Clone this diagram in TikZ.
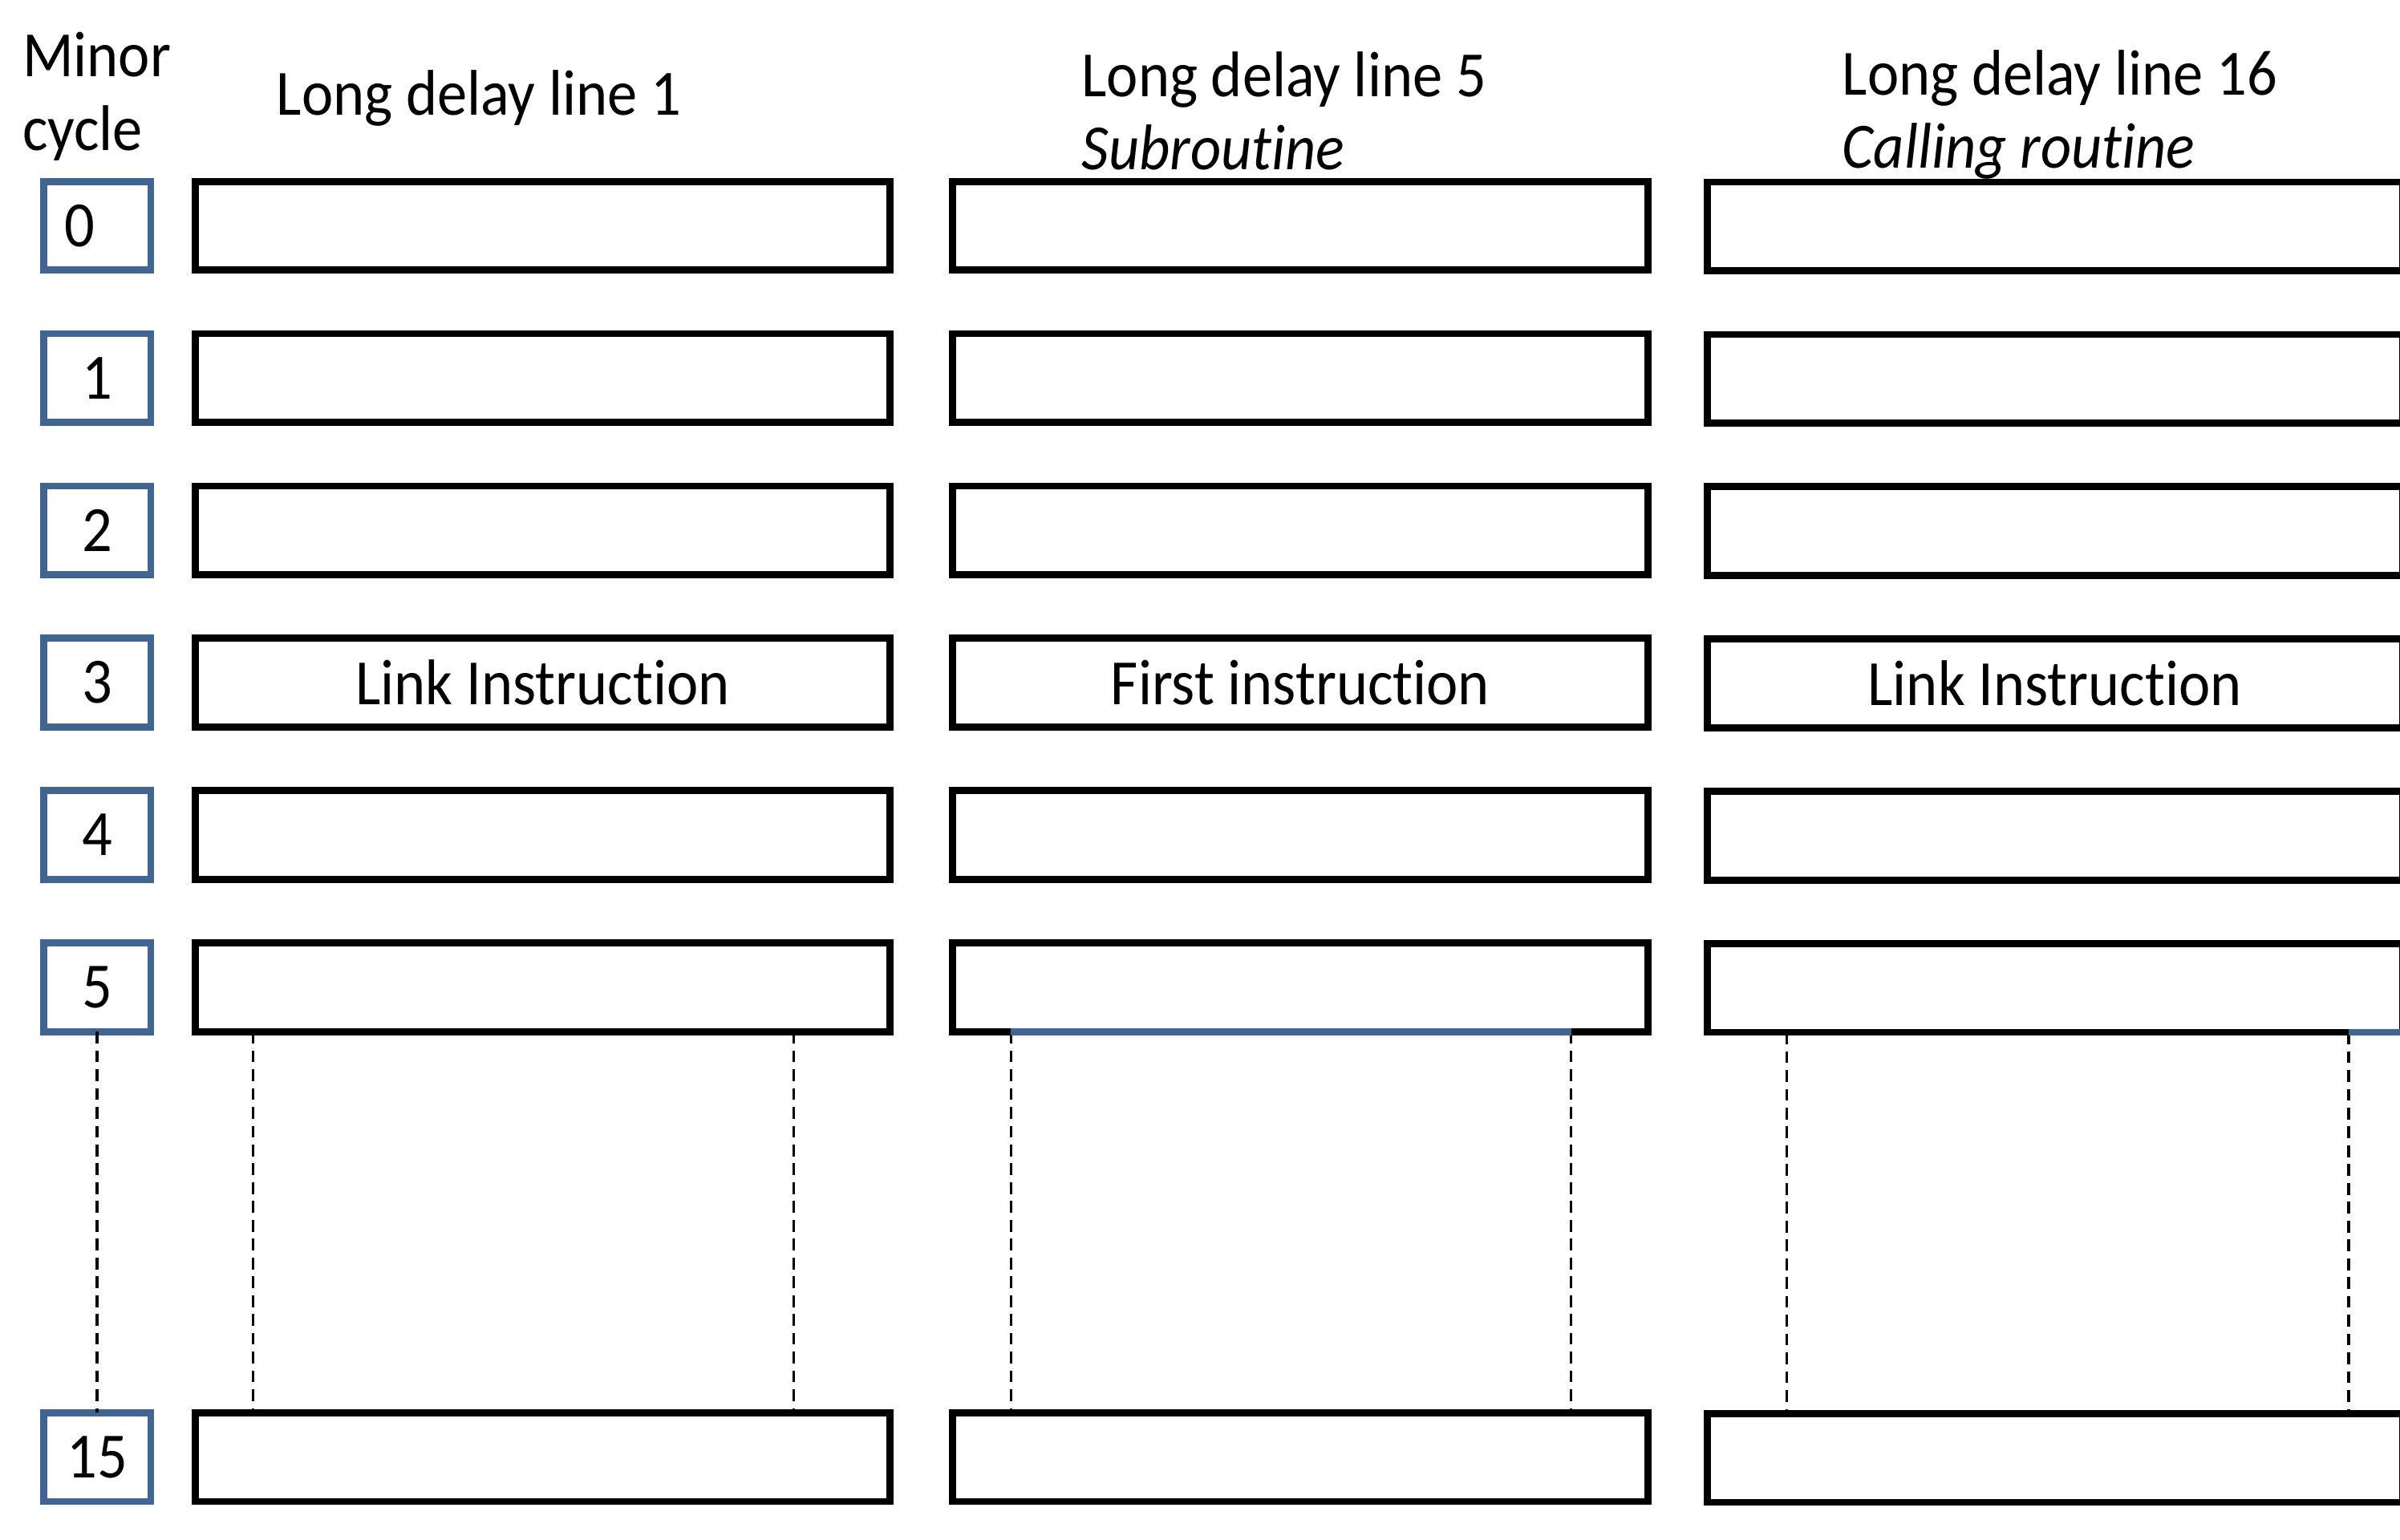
\documentclass[tikz,border=0pt]{standalone}
\usepackage{fontspec}
\setmainfont[FakeStretch=0.925, Ligatures=NoCommon]{Carlito}
\definecolor{minorblue}{RGB}{65,100,145}
\tikzstyle{minorbox} = [rectangle, minimum width=0.70cm, minimum height=0.58cm, inner sep=0pt, outer sep=0pt, text centered, draw=minorblue, line width=1.3pt]
\tikzstyle{cellbox} = [rectangle, minimum width=4.54cm, minimum height=0.58cm, inner sep=0pt, outer sep=0pt, text centered, draw=black, line width=1.3pt]
\tikzstyle{heading} = [anchor=base west, inner sep=0pt, align=left]
\tikzstyle{dashline} = [line width=0.5pt, dash pattern=on 2.2pt off 1.3pt]
\tikzstyle{blueline} = [line width=1.3pt, draw=minorblue]

\begin{document}
\begin{tikzpicture}[node distance=0.995cm, every node/.style={font=\fontsize{12}{13.6}\selectfont}]

    \useasboundingbox (0,0) rectangle (15.68,-10.06);

    % minor cycle column
    \node (m0) [minorbox] at (0.635,-1.475) {0\kern0.23cm};
    \node (m1) [minorbox, below of=m0] {1};
    \node (m2) [minorbox, below of=m1] {2};
    \node (m3) [minorbox, below of=m2] {3};
    \node (m4) [minorbox, below of=m3] {4};
    \node (m5) [minorbox, below of=m4] {5};
    \node (m15) [minorbox, below of=m5, yshift=-2.075cm] {15};

    % long delay line 1
    \node (a0) [cellbox] at (3.545,-1.475) {};
    \node (a1) [cellbox, below of=a0] {};
    \node (a2) [cellbox, below of=a1] {};
    \node (a3) [cellbox, below of=a2] {Link Instruction};
    \node (a4) [cellbox, below of=a3] {};
    \node (a5) [cellbox, below of=a4] {};
    \node (a15) [cellbox, below of=a5, yshift=-2.075cm] {};

    % long delay line 5
    \node (b0) [cellbox] at (8.495,-1.475) {};
    \node (b1) [cellbox, below of=b0] {};
    \node (b2) [cellbox, below of=b1] {};
    \node (b3) [cellbox, below of=b2] {First instruction};
    \node (b4) [cellbox, below of=b3] {};
    \node (b5) [cellbox, below of=b4] {};
    \node (b15) [cellbox, below of=b5, yshift=-2.075cm] {};

    % long delay line 16
    \node (c0) [cellbox] at (13.425,-1.48) {};
    \node (c1) [cellbox, below of=c0] {};
    \node (c2) [cellbox, below of=c1] {};
    \node (c3) [cellbox, below of=c2] {Link Instruction};
    \node (c4) [cellbox, below of=c3] {};
    \node (c5) [cellbox, below of=c4] {};
    \node (c15) [cellbox, below of=c5, yshift=-2.075cm] {};

    % headings (base = last line)
    \node (minor) [heading] at (0.14,-0.98) {Minor\\cycle};
    \node (ldl1) [heading] at (1.80,-0.75) {Long delay line 1};
    \node (ldl5) [heading] at (7.06,-1.11) {Long delay line 5\\\textit{Subroutine}};
    \node (ldl16) [heading] at (12.03,-1.10) {Long delay line 16\\\textit{Calling routine}};

    % gap between minor cycle 5 and 15
    \draw [dashline] (m5.south) -- (m15.north);
    \draw [dashline] ([xshift=0.38cm]a5.south west) -- ([xshift=0.38cm]a15.north west);
    \draw [dashline] ([xshift=-0.63cm]a5.south east) -- ([xshift=-0.63cm]a15.north east);
    \draw [dashline] ([xshift=0.38cm]b5.south west) -- ([xshift=0.38cm]b15.north west);
    \draw [dashline] ([xshift=-0.5cm]b5.south east) -- ([xshift=-0.5cm]b15.north east);
    \draw [dashline] ([xshift=0.52cm]c5.south west) -- ([xshift=0.52cm]c15.north west);
    \draw [dashline] ([xshift=-0.35cm]c5.south east) -- ([xshift=-0.35cm]c15.north east);
    \draw [blueline] ([xshift=0.38cm]b5.south west) -- ([xshift=-0.5cm]b5.south east);
    \draw [blueline] ([xshift=-0.35cm]c5.south east) -- (c5.south east);

\end{tikzpicture}
\end{document}
